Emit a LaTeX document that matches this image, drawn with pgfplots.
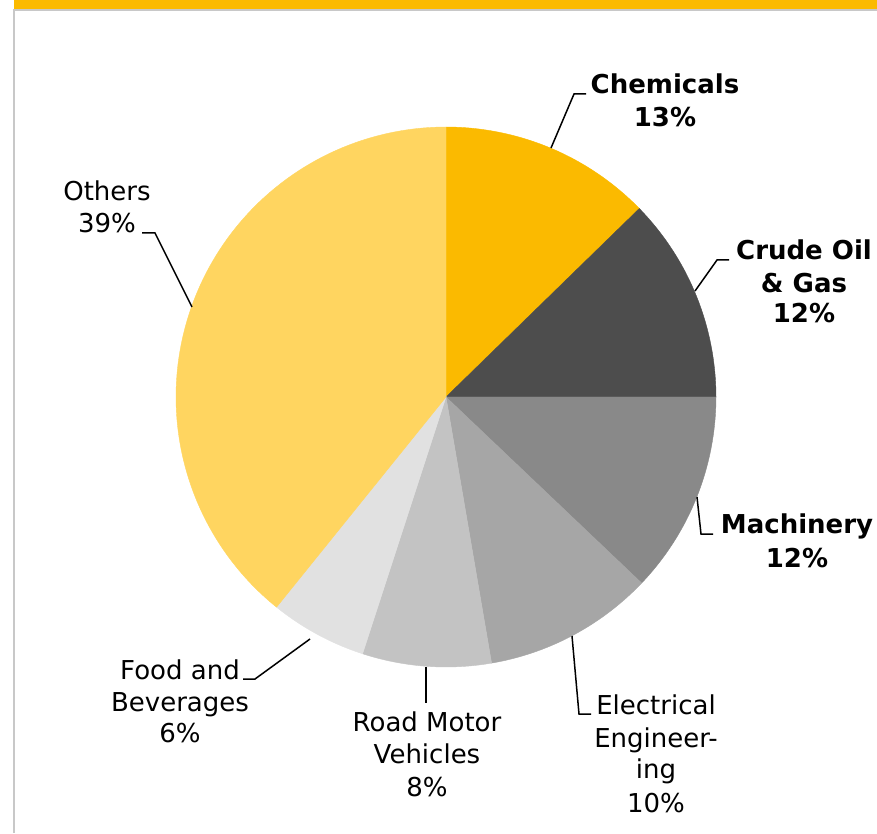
\documentclass[border=0pt]{standalone}
\usepackage{pgfplots}
\pgfplotsset{compat=1.18}
\usepackage{fontspec}
\setmainfont{DejaVu Sans}
\definecolor{cChem}{HTML}{FBBA00}
\definecolor{cCrude}{HTML}{4D4D4D}
\definecolor{cMach}{HTML}{898989}
\definecolor{cElec}{HTML}{A6A6A6}
\definecolor{cRoad}{HTML}{C3C3C3}
\definecolor{cFood}{HTML}{E1E1E1}
\definecolor{cOther}{HTML}{FFD560}
\definecolor{cFrame}{HTML}{C8C8C8}
% shares (percent), clockwise from 12 o'clock
\def\vChem{12.7}
\def\vCrude{12.3}
\def\vMach{12.1}
\def\vElec{10.2}
\def\vRoad{7.7}
\def\vFood{5.8}
\def\vOther{39.2}
\begin{document}%
\begin{tikzpicture}[font=\fontsize{26}{32}\selectfont]
\pgfmathsetmacro{\aA}{90}
\pgfmathsetmacro{\aB}{\aA-3.6*\vChem}
\pgfmathsetmacro{\aC}{\aB-3.6*\vCrude}
\pgfmathsetmacro{\aD}{\aC-3.6*\vMach}
\pgfmathsetmacro{\aE}{\aD-3.6*\vElec}
\pgfmathsetmacro{\aF}{\aE-3.6*\vRoad}
\pgfmathsetmacro{\aG}{\aF-3.6*\vFood}
\pgfmathsetmacro{\aH}{\aG-3.6*\vOther}
\useasboundingbox (0,0) rectangle (877pt,833pt);
\begin{axis}[at={(0,0)}, anchor=south west, scale only axis,
  width=877pt, height=833pt, xmin=0, xmax=877, ymin=0, ymax=833,
  hide axis, clip=false]
% frame
\addplot[fill=cChem, draw=none] coordinates {(14,824) (877,824) (877,833) (14,833)} -- cycle;
\addplot[cFrame, line width=2pt] coordinates {(877,822.5) (13.8,822.5) (13.8,0)};
% slices
\addplot[fill=cChem, draw=cChem, line width=0.4pt, domain=\aB:\aA, samples=60] ({446+270*cos(x)},{436+270*sin(x)}) -- (446,436) -- cycle;
\addplot[fill=cCrude, draw=cCrude, line width=0.4pt, domain=\aC:\aB, samples=60] ({446+270*cos(x)},{436+270*sin(x)}) -- (446,436) -- cycle;
\addplot[fill=cMach, draw=cMach, line width=0.4pt, domain=\aD:\aC, samples=60] ({446+270*cos(x)},{436+270*sin(x)}) -- (446,436) -- cycle;
\addplot[fill=cElec, draw=cElec, line width=0.4pt, domain=\aE:\aD, samples=60] ({446+270*cos(x)},{436+270*sin(x)}) -- (446,436) -- cycle;
\addplot[fill=cRoad, draw=cRoad, line width=0.4pt, domain=\aF:\aE, samples=60] ({446+270*cos(x)},{436+270*sin(x)}) -- (446,436) -- cycle;
\addplot[fill=cFood, draw=cFood, line width=0.4pt, domain=\aG:\aF, samples=60] ({446+270*cos(x)},{436+270*sin(x)}) -- (446,436) -- cycle;
\addplot[fill=cOther, draw=cOther, line width=0.4pt, domain=\aH:\aG, samples=120] ({446+270*cos(x)},{436+270*sin(x)}) -- (446,436) -- cycle;
% leader lines
\addplot[black, line width=1.5pt] coordinates {(551,685) (574,739) (586,739)};
\addplot[black, line width=1.5pt] coordinates {(695,542) (717,573) (729,573)};
\addplot[black, line width=1.5pt] coordinates {(697,336) (701,299) (713,299)};
\addplot[black, line width=1.5pt] coordinates {(572,197) (579,119) (591,119)};
\addplot[black, line width=1.5pt] coordinates {(426,166) (426,130)};
\addplot[black, line width=1.5pt] coordinates {(310,194) (255,154) (243,154)};
\addplot[black, line width=1.5pt] coordinates {(192,526) (155,600) (142,600)};
% labels
\node[anchor=base] at (axis cs:665,739) {\bfseries Chemicals};
\node[anchor=base] at (axis cs:665,706) {\bfseries 13\%};
\node[anchor=base] at (axis cs:804,573) {\bfseries Crude Oil};
\node[anchor=base] at (axis cs:804,540) {\bfseries \& Gas};
\node[anchor=base] at (axis cs:804,510) {\bfseries 12\%};
\node[anchor=base] at (axis cs:797,300) {\bfseries Machinery};
\node[anchor=base] at (axis cs:797,266) {\bfseries 12\%};
\node[anchor=base] at (axis cs:656,119) {Electrical};
\node[anchor=base] at (axis cs:656,86) {Engineer-};
\node[anchor=base] at (axis cs:656,55) {ing};
\node[anchor=base] at (axis cs:656,21) {10\%};
\node[anchor=base] at (axis cs:427,102) {Road Motor};
\node[anchor=base] at (axis cs:427,70) {Vehicles};
\node[anchor=base] at (axis cs:427,37) {8\%};
\node[anchor=base] at (axis cs:180,154) {Food and};
\node[anchor=base] at (axis cs:180,122) {Beverages};
\node[anchor=base] at (axis cs:180,91) {6\%};
\node[anchor=base] at (axis cs:107,632) {Others};
\node[anchor=base] at (axis cs:107,600) {39\%};
\end{axis}
\end{tikzpicture}%
\end{document}
